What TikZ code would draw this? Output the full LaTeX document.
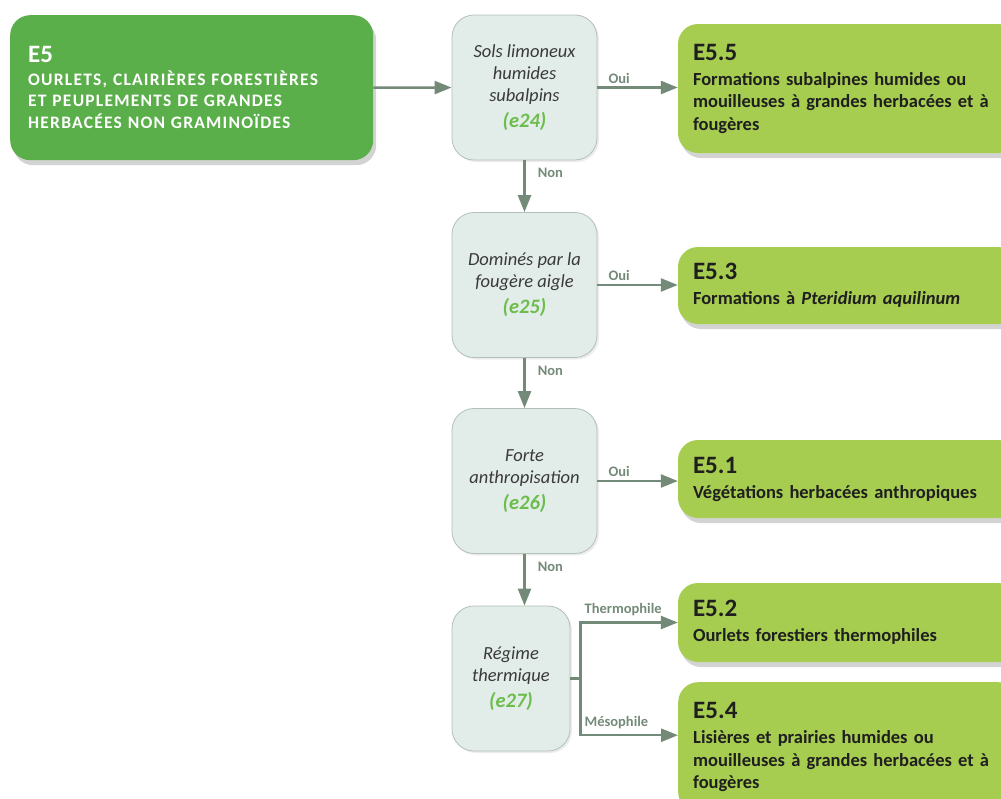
\documentclass[tikz,border=0pt]{standalone}
\usepackage{fontspec}
\setmainfont{Carlito}
\usepackage{xcolor}
\usepackage{tikz}
\usetikzlibrary{arrows.meta,shadows}

\definecolor{rootgreen}{HTML}{5BAF4A}
\definecolor{resgreen}{HTML}{A6CD50}
\definecolor{qfill}{HTML}{E2ECE8}
\definecolor{qdraw}{HTML}{B2C0BA}
\definecolor{arrgrey}{HTML}{748A78}
\definecolor{codegreen}{HTML}{6CBD4C}
\definecolor{qtext}{HTML}{3A3A3A}

\newcommand{\hcode}[1]{{\fontsize{25}{28}\selectfont #1}}
\newcommand{\ecode}[1]{{\bfseries\color{codegreen}\fontsize{20.5}{24}\selectfont #1}}

\begin{document}
\begin{tikzpicture}[x=1pt, y=-1pt,
  root/.style={rectangle, rounded corners=20pt, fill=rootgreen, text=white,
               font=\bfseries\fontsize{17.5}{21.5}\selectfont,
               minimum width=363pt, minimum height=145pt, inner xsep=18pt,
               text width=327pt, align=left,
               drop shadow={shadow xshift=3pt, shadow yshift=-5pt, opacity=.35}},
  quest/.style={rectangle, rounded corners=22pt, fill=qfill, draw=qdraw,
                line width=.8pt, text=qtext,
                font=\itshape\fontsize{18.5}{22}\selectfont,
                minimum width=145pt, minimum height=145pt, align=center,
                drop shadow={shadow xshift=2pt, shadow yshift=-2pt, opacity=.15}},
  result/.style={rectangle, rounded corners=20pt, fill=resgreen, text=black!88,
                 font=\bfseries\fontsize{18.5}{22.5}\selectfont,
                 minimum width=340pt, inner xsep=15pt, text width=310pt,
                 align=left,
                 drop shadow={shadow xshift=3pt, shadow yshift=-5pt, opacity=.35}},
  lab/.style={font=\bfseries\fontsize{14.5}{16}\selectfont, text=arrgrey,
              inner sep=3pt},
  arr/.style={draw=arrgrey, line width=2.5pt,
              -{Triangle[length=17pt, width=13pt]}}]
  \useasboundingbox (0,0) rectangle (1001,798);
  \clip (0,0) rectangle (1001,798);

  % habitat class
  \node[root, anchor=north west] (e5) at (10,15)
    {\hcode{E5}\\[1pt]
     \addfontfeature{LetterSpace=7}OURLETS, CLAIRIÈRES FORESTIÈRES\\
     ET PEUPLEMENTS DE GRANDES\\
     HERBACÉES NON GRAMINOÏDES};

  % questions
  \node[quest] (q24) at (524.5,87.5)
    {Sols limoneux\\ humides\\ subalpins\\[4pt] \ecode{(e24)}};
  \node[quest] (q25) at (524.5,285)
    {Dominés par la\\ fougère aigle\\[4pt] \ecode{(e25)}};
  \node[quest] (q26) at (524.5,481)
    {Forte\\ anthropisation\\[4pt] \ecode{(e26)}};
  \node[quest, minimum width=118pt] (q27) at (511,678.5)
    {Régime\\ thermique\\[4pt] \ecode{(e27)}};

  % results
  \node[result, minimum height=129pt] (r55) at (848,88.5)
    {\hcode{E5.5}\\[2.5pt]
     Formations subalpines humides ou\\
     mouilleuses à grandes herbacées et à\\
     fougères};
  \node[result, minimum height=77pt] (r53) at (848,285.5)
    {\hcode{E5.3}\\[2.5pt]
     Formations à \textit{Pteridium aquilinum}};
  \node[result, minimum height=78pt] (r51) at (848,479)
    {\hcode{E5.1}\\[2.5pt]
     Végétations herbacées anthropiques};
  \node[result, minimum height=79pt] (r52) at (848,622.5)
    {\hcode{E5.2}\\[2.5pt]
     Ourlets forestiers thermophiles};
  \node[result, minimum height=130pt, anchor=north west] (r54) at (678,682)
    {\hcode{E5.4}\\[2.5pt]
     Lisières et prairies humides ou\\
     mouilleuses à grandes herbacées et à\\
     fougères};

  % connectors
  \draw[arr] (e5) -- (q24);
  \draw[arr] (q24.east) -- node[lab, above, pos=.27] {Oui} (q24.east -| r55.west);
  \draw[arr] (q25.east) -- node[lab, above, pos=.27] {Oui} (q25.east -| r53.west);
  \draw[arr] (q26.east) -- node[lab, above, pos=.27] {Oui} (q26.east -| r51.west);
  \draw[arr] (q24) -- node[lab, right, pos=.25, xshift=9pt] {Non} (q25);
  \draw[arr] (q25) -- node[lab, right, pos=.25, xshift=9pt] {Non} (q26);
  \draw[arr] (q26.south) -- node[lab, right, pos=.25, xshift=9pt] {Non}
    (q26.south |- q27.north);
  \draw[draw=arrgrey, line width=2.5pt] (q27.east) -- ++(10,0) coordinate (br);
  \draw[arr] (br) |- node[lab, above right, pos=.5, yshift=2pt] {Thermophile}
    (r52.west);
  \draw[arr] (br) |- node[lab, above right, pos=.5, yshift=2pt] {Mésophile}
    ([yshift=12pt]r54.west);
\end{tikzpicture}
\end{document}
